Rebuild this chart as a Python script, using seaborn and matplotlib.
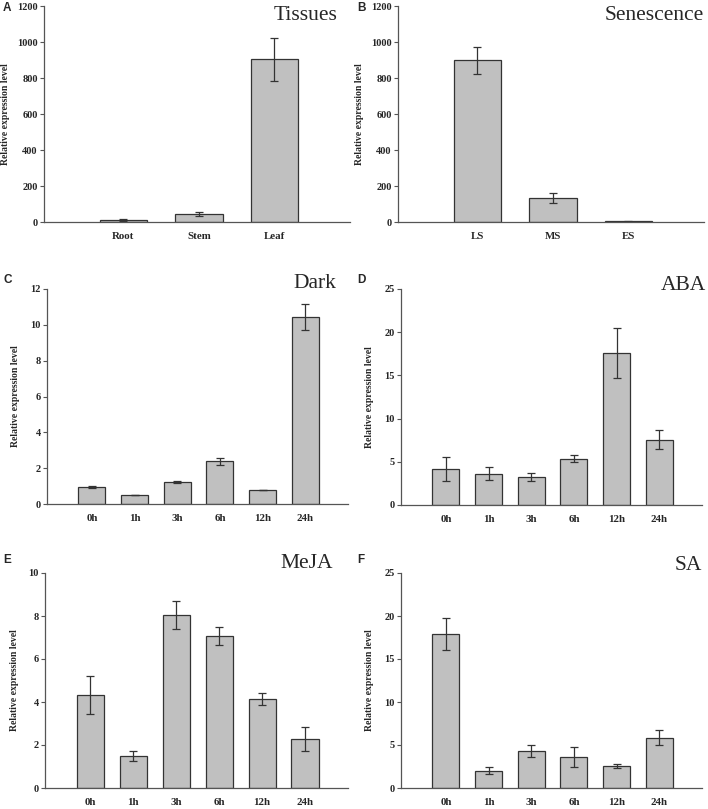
import matplotlib
matplotlib.use("Agg")
from matplotlib import pyplot as plt
import seaborn as sns
import pandas as pd
import numpy as np

# data
tissues = ["Root", "Stem", "Leaf"]
tissues_val = [12, 43, 904]
tissues_err = [5, 12, 120]

senescence = ["LS", "MS", "ES"]
senescence_val = [898, 135, 3]
senescence_err = [76, 27, 2]

hours = ["0h", "1h", "3h", "6h", "12h", "24h"]
dark_val = [0.95, 0.50, 1.23, 2.38, 0.78, 10.43]
dark_err = [0.03, 0.02, 0.05, 0.18, 0.02, 0.72]
aba_val = [4.17, 3.6, 3.2, 5.37, 17.6, 7.53]
aba_err = [1.4, 0.75, 0.48, 0.38, 2.9, 1.1]
meja_val = [4.33, 1.48, 8.05, 7.08, 4.13, 2.27]
meja_err = [0.9, 0.22, 0.65, 0.42, 0.28, 0.55]
sa_val = [17.95, 2.0, 4.29, 3.59, 2.55, 5.87]
sa_err = [1.85, 0.4, 0.7, 1.18, 0.25, 0.87]

sns.set_style("ticks")
plt.rcParams['font.family'] = ['Liberation Serif', 'DejaVu Serif']

fig = plt.figure(figsize=(7.08, 8.09), dpi=100)
W, H = 708, 809


def panel(box, cats, vals, errs, ymax, step, title, letter, title_xy, ylab_x, letter_xy):
    l, t, r, b = box
    ax = fig.add_axes([l / W, (H - b) / H, (r - l) / W, (b - t) / H])
    df = pd.DataFrame({"cat": cats, "val": vals})
    sns.barplot(data=df, x="cat", y="val", ax=ax, color="#c0c0c0", saturation=1,
                width=0.63, edgecolor="#333333", linewidth=0.9, errorbar=None)
    ax.errorbar(np.arange(len(cats)), vals, yerr=errs, fmt="none",
                ecolor="#333333", elinewidth=0.9, capsize=3.2, capthick=0.9)
    ax.set_ylim(0, ymax)
    ax.set_yticks(np.arange(0, ymax + step / 2, step))
    ax.set_xlim(-1.05, len(cats) - 0.0)
    ax.set_xlabel("")
    ax.set_ylabel("Relative expression level", fontsize=7, fontweight="bold", va="center")
    ax.yaxis.set_label_coords(ylab_x, 0.5)
    for s in ["top", "right"]:
        ax.spines[s].set_visible(False)
    for s in ["left", "bottom"]:
        ax.spines[s].set_color("#555555")
        ax.spines[s].set_linewidth(0.9)
    ax.tick_params(axis="y", length=3, width=0.8, color="#555555", pad=1.5, labelsize=7.5)
    ax.tick_params(axis="x", length=0, pad=7.5, labelsize=7.8)
    for lab in ax.get_xticklabels() + ax.get_yticklabels():
        lab.set_fontweight("bold")
    ax.text(title_xy[0], title_xy[1], title, transform=ax.transAxes, ha="right", va="top",
            fontsize=15.5)
    fig.text(letter_xy[0] / W, 1 - letter_xy[1] / H, letter, ha="left", va="top",
             fontsize=8.5, fontweight="bold", family=["Liberation Sans", "DejaVu Sans"])
    return ax


panel((44, 6, 350, 222), tissues, tissues_val, tissues_err, 1200, 200,
      "Tissues", "A", (0.96, 1.0), -0.126, (3, 2))
panel((398, 6, 704, 222), senescence, senescence_val, senescence_err, 1200, 200,
      "Senescence", "B", (1.0, 1.0), -0.126, (357, 2))
panel((47, 289, 348, 504), hours, dark_val, dark_err, 12, 2,
      "Dark", "C", (0.96, 1.07), -0.106, (3, 274))
panel((401, 289, 702, 505), hours, aba_val, aba_err, 25, 5,
      "ABA", "D", (1.015, 1.06), -0.106, (357, 274))
panel((45, 573, 348, 788), hours, meja_val, meja_err, 10, 2,
      "MeJA", "E", (0.95, 1.09), -0.102, (3, 554))
panel((401, 573, 702, 788), hours, sa_val, sa_err, 25, 5,
      "SA", "F", (1.0, 1.08), -0.106, (357, 554))

fig.savefig("out.png", dpi=100)
